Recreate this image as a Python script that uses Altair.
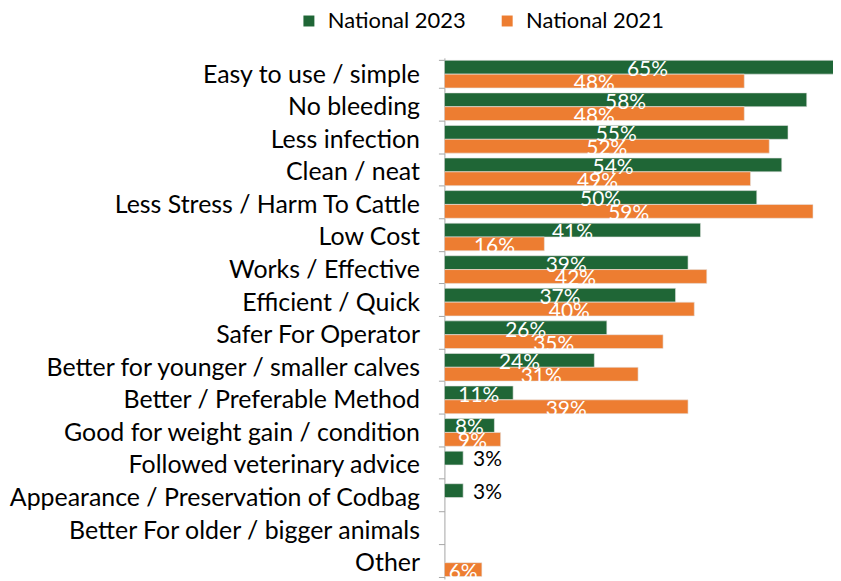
import altair as alt
import pandas as pd

categories = [
    "Easy to use / simple",
    "No bleeding",
    "Less infection",
    "Clean / neat",
    "Less Stress / Harm To Cattle",
    "Low Cost",
    "Works / Effective",
    "Efficient / Quick",
    "Safer For Operator",
    "Better for younger / smaller calves",
    "Better / Preferable Method",
    "Good for weight gain / condition",
    "Followed veterinary advice",
    "Appearance / Preservation of Codbag",
    "Better For older / bigger animals",
    "Other",
]
national_2023 = [65, 58, 55, 54, 50, 41, 39, 37, 26, 24, 11, 8, 3, 3, None, None]
national_2021 = [48, 48, 52, 49, 59, 16, 42, 40, 35, 31, 39, 9, None, None, None, 6]
series = ["National 2023", "National 2021"]
colors = ["#1F6636", "#ED7D31"]

rows = []
for c, a, b in zip(categories, national_2023, national_2021):
    for s, v in zip(series, [a, b]):
        if v is not None:
            rows.append({"cat": c, "series": s, "value": v, "label": f"{v}%"})
df = pd.DataFrame(rows)

FONT = "Lato"
y_scale = alt.Scale(domain=categories, paddingInner=0.15, paddingOuter=0.075)
y_enc = alt.Y("cat:N", sort=categories, title=None, scale=y_scale,
              axis=alt.Axis(labelFontSize=25, labelFont=FONT, labelColor="#000000",
                            domainColor="#A6A6A6", tickColor="#A6A6A6", tickSize=6,
                            tickBand="extent",
                            labelExpr="datum.value == 'Other' ? 'Other\u00a0' : datum.value",
                            labelPadding=19, minExtent=435, maxExtent=435,
                            labelLimit=430))
yoff = alt.YOffset("series:N", sort=series)
x_scale = alt.Scale(domain=[0, 62.2], nice=False)

bars = alt.Chart(df).mark_bar(clip=True, stroke="#E6E6E6", strokeWidth=0.6).encode(
    y=y_enc,
    yOffset=yoff,
    x=alt.X("value:Q", scale=x_scale, axis=None),
    color=alt.Color("series:N", sort=series,
                    scale=alt.Scale(domain=series, range=colors),
                    legend=alt.Legend(title=None, orient="none", direction="horizontal",
                                      legendX=-147, legendY=-48, padding=0,
                                      symbolType="square", symbolSize=121,
                                      symbolStrokeWidth=0, labelFontSize=22,
                                      labelFont=FONT, labelColor="#000000",
                                      labelOffset=8, columnPadding=30)),
)

inside = alt.Chart(df).transform_filter("datum.value >= 5").transform_calculate(
    mid="datum.value / 2"
).mark_text(font=FONT, fontSize=21, color="white", baseline="middle", dy=3).encode(
    y=alt.Y("cat:N", sort=categories, scale=y_scale),
    yOffset=yoff,
    x=alt.X("mid:Q", scale=x_scale),
    text="label:N",
)

outside = alt.Chart(df).transform_filter("datum.value < 5").mark_text(
    font=FONT, fontSize=21, color="black", baseline="middle", align="left", dx=10, dy=2
).encode(
    y=alt.Y("cat:N", sort=categories, scale=y_scale),
    yOffset=yoff,
    x=alt.X("value:Q", scale=x_scale),
    text="label:N",
)

chart = alt.layer(bars, inside, outside).properties(
    width=390, height=523,
    padding={"left": 0, "top": 1, "right": 0, "bottom": 0},
).configure_view(stroke=None)

chart.save("out.html", embed_options={"renderer": "svg", "actions": False})
